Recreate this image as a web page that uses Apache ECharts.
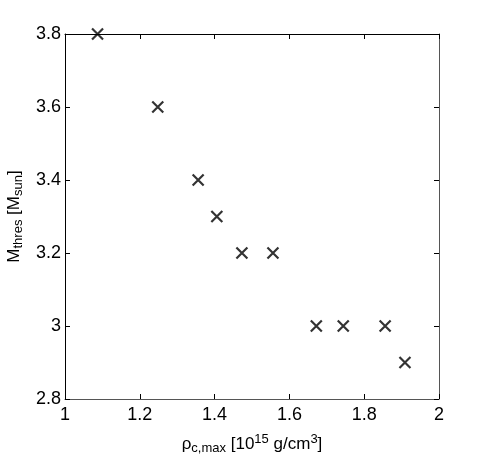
<!DOCTYPE html>
<html><head><meta charset="utf-8">
<script src="https://cdn.jsdelivr.net/npm/echarts@6/dist/echarts.min.js"></script>
<style>html,body{margin:0;padding:0;background:#fff}#c{width:485px;height:462px}</style>
</head><body><div id="c"></div>
<script>
var rhoMax = [1.087, 1.248, 1.356, 1.406, 1.473, 1.556, 1.672, 1.744, 1.856, 1.909];
var mThres = [3.8, 3.6, 3.4, 3.3, 3.2, 3.2, 3.0, 3.0, 3.0, 2.9];
var xTicks = [1, 1.2, 1.4, 1.6, 1.8, 2];
var yTicks = [2.8, 3, 3.2, 3.4, 3.6, 3.8];

var font = 'Liberation Sans, Arial, Helvetica, sans-serif';
var data = rhoMax.map(function(x, i){ return [x, mThres[i]]; });
function fmt(v){ return String(Math.round(v*10)/10); }
var chart = echarts.init(document.getElementById('c'), null, {renderer:'canvas'});
function axisBase(lineColor){
  return {
    axisLine:{show:true, onZero:false, lineStyle:{color:lineColor, width:1}},
    axisTick:{show:true, inside:true, length:5, lineStyle:{color:'#000'}},
    splitLine:{show:false}
  };
}
chart.setOption({
  animation:false,
  grid:{left:65, right:46, top:34, bottom:63, containLabel:false, outerBoundsMode:'none'},
  xAxis:[
    Object.assign({type:'value', min:1, max:2, interval:0.2, position:'bottom',
      axisLabel:{color:'#000', fontSize:18, fontFamily:font, margin:7, formatter:fmt},
      name:'{n|ρ}{s|c,max}{n| [10}{p|15}{n| g/cm}{p|3}{n|]}', nameLocation:'middle', nameGap:34,
      nameTextStyle:{rich:{
        n:{fontSize:17, fontFamily:font, color:'#000'},
        s:{fontSize:13, fontFamily:font, color:'#000', verticalAlign:'bottom', padding:[9,0,0,0]},
        p:{fontSize:13, fontFamily:font, color:'#000', verticalAlign:'top', padding:[0,0,9,0]}
      }}
    }, axisBase('#555')),
    Object.assign({type:'value', min:1, max:2, interval:0.2, position:'top',
      axisLabel:{show:false}}, axisBase('#000'))
  ],
  yAxis:[
    Object.assign({type:'value', min:2.8, max:3.8, interval:0.2, position:'left',
      axisLabel:{color:'#000', fontSize:18, fontFamily:font, margin:4, formatter:fmt},
      name:'{n|M}{s|thres}{n| [M}{s|sun}{n|]}', nameLocation:'middle', nameGap:38, nameRotate:90,
      nameTextStyle:{rich:{
        n:{fontSize:17, fontFamily:font, color:'#000'},
        s:{fontSize:13, fontFamily:font, color:'#000', verticalAlign:'bottom', padding:[9,0,0,0]}
      }}
    }, axisBase('#000')),
    Object.assign({type:'value', min:2.8, max:3.8, interval:0.2, position:'right',
      axisLabel:{show:false}}, axisBase('#555'))
  ],
  series:[{
    type:'scatter', xAxisIndex:0, yAxisIndex:0, data:data,
    symbol:'path://M0,0L10,10M10,0L0,10', symbolSize:11,
    itemStyle:{color:'rgba(0,0,0,0)', borderColor:'#000', borderWidth:2.2}
  }]
});
</script></body></html>
